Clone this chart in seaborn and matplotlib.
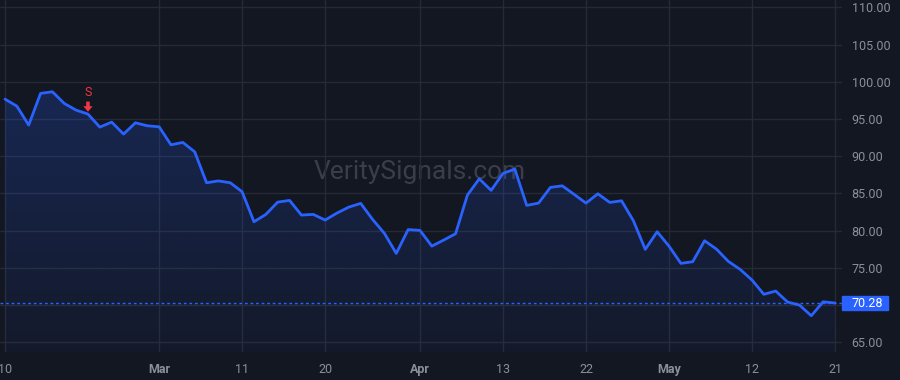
import numpy as np
import pandas as pd
import matplotlib
matplotlib.use("Agg")
import matplotlib.pyplot as plt
from matplotlib.patches import Rectangle
import seaborn as sns

# ---- data ----
prices = [97.68, 96.74, 94.19, 98.45, 98.67, 97.10, 96.20, 95.67, 93.92, 94.59,
          92.98, 94.50, 94.10, 93.96, 91.54, 91.86, 90.60, 86.44, 86.69, 86.44,
          85.23, 81.20, 82.19, 83.84, 84.07, 82.10, 82.19, 81.43, 82.37, 83.17,
          83.67, 81.52, 79.64, 76.95, 80.15, 80.04, 77.93, 78.74, 79.59, 84.79,
          86.97, 85.42, 87.70, 88.28, 83.40, 83.71, 85.82, 86.03, 84.88, 83.71,
          84.96, 83.80, 84.02, 81.33, 77.49, 79.86, 77.93, 75.61, 75.83, 78.65,
          77.53, 75.88, 74.80, 73.37, 71.45, 71.89, 70.41, 70.01, 68.57, 70.45,
          70.28]
tick_pos = [0, 13, 20, 27, 35, 42, 49, 56, 63, 70]
tick_labels = ["10", "Mar", "11", "20", "Apr", "13", "22", "May", "12", "21"]
month_labels = ["Mar", "Apr", "May"]
y_ticks = [65, 70, 75, 80, 85, 90, 95, 100, 105, 110]
signal_index = 7
signal_text = "S"
last_price = prices[-1]
watermark = "VeritySignals.com"

BG = "#131722"
GRID = "#262a35"
TXT = "#8b8f99"
BLUE = "#2962ff"
RED = "#f23645"

sns.set_theme(style="dark")
plt.rcParams["font.family"] = ["Roboto", "DejaVu Sans"]

df = pd.DataFrame({"i": np.arange(len(prices)), "price": prices})

fig = plt.figure(figsize=(9, 3.8), dpi=100, facecolor=BG)
ax = fig.add_axes([0, 28 / 380, 842 / 900, 352 / 380])
ax.set_facecolor(BG)

ymin, ymax = 63.7, 111.0
ax.set_xlim(-0.42, 70.59)
ax.set_ylim(ymin, ymax)

# gradient area under line
poly = ax.fill_between(df["i"], df["price"], ymin, color="none", lw=0)
grad = np.zeros((256, 1, 4))
base = matplotlib.colors.to_rgb(BLUE)
grad[..., 0], grad[..., 1], grad[..., 2] = base
grad[:, 0, 3] = np.linspace(0.22, 0.04, 256)
img = ax.imshow(grad, aspect="auto", extent=[-0.42, 70.59, ymin, max(prices)],
                origin="upper", zorder=1)
img.set_clip_path(poly.get_paths()[0], transform=ax.transData)
ax.set_xlim(-0.42, 70.59)
ax.set_ylim(ymin, ymax)

sns.lineplot(data=df, x="i", y="price", ax=ax, color=BLUE, lw=2, zorder=3)

# last price dotted line and label
ax.axhline(last_price, color=BLUE, lw=1, ls=(0, (2, 2)), zorder=2)
trans = ax.get_yaxis_transform()
half = 7.2 / (352 / (ymax - ymin))
ax.add_patch(Rectangle((1.0, last_price - half), 46 / 842, 2 * half,
                       transform=trans, color=BLUE, clip_on=False, zorder=5))
ax.text(1.0 + 10 / 842, last_price, f"{last_price:.2f}", transform=trans,
        color="white", fontsize=9, ha="left", va="center", zorder=6)

# sell signal
ax.text(signal_index, 98.55, signal_text, color=RED, fontsize=9,
        ha="center", va="center", zorder=6)
ax.arrow(signal_index, 97.35, 0, -1.37, width=0.30, head_width=0.78,
         head_length=0.75, length_includes_head=True, color=RED, lw=0, zorder=6)

# watermark
ax.text(420 / 842, (352 - 172) / 352, watermark, transform=ax.transAxes,
        fontsize=19, color="#3a3e49", ha="center", va="center", zorder=0.5)

# grid / ticks
ax.set_xticks(tick_pos)
ax.set_xticklabels(tick_labels)
for lbl in ax.get_xticklabels():
    if lbl.get_text() in month_labels:
        lbl.set_fontweight("bold")
ax.set_yticks(y_ticks)
# the 70.00 label sits under the last-price badge in the reference
ax.set_yticklabels(["" if abs(v - last_price) < 2 else f"{v:.2f}" for v in y_ticks])
ax.yaxis.tick_right()
ax.tick_params(axis="x", length=0, pad=8, colors=TXT, labelsize=9)
ax.tick_params(axis="y", length=0, pad=7, colors=TXT, labelsize=9)
ax.grid(True, color=GRID, lw=1)
ax.set_axisbelow(True)
for s in ax.spines.values():
    s.set_visible(False)
ax.set_xlabel("")
ax.set_ylabel("")

fig.savefig("out.png", dpi=100, facecolor=BG)
